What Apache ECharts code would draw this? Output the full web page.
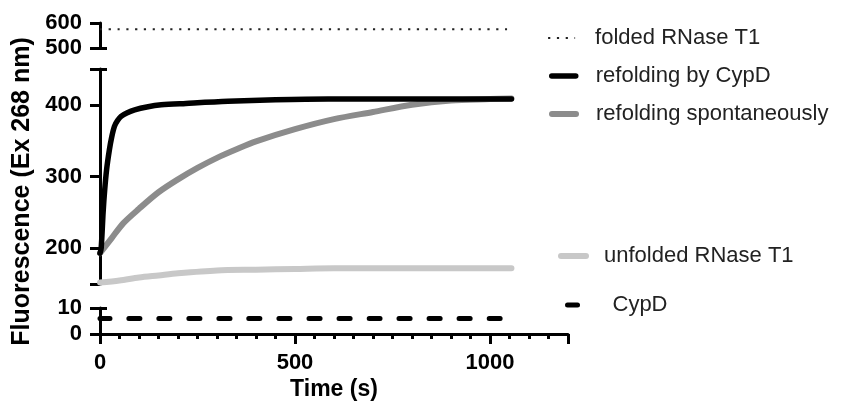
<!DOCTYPE html>
<html>
<head>
<meta charset="utf-8">
<title>RNase T1 refolding</title>
<script src="https://cdn.jsdelivr.net/npm/echarts@6/dist/echarts.min.js"></script>
<style>
  html, body { margin: 0; padding: 0; background: #fff; }
  #chart { width: 843px; height: 414px; }
</style>
</head>
<body>
<div id="chart"></div>
<script>
// values (time in s, fluorescence at Ex 268 nm)
const timeCypD = [0, 3, 8, 12, 17, 24, 30, 37, 45, 54, 70, 89, 120, 157, 220, 328, 450, 585, 800, 1055];
const refoldCypD = [193, 200, 250, 281, 310, 337, 355, 370, 378, 384, 389, 393, 397, 400, 402, 405, 407, 408, 408, 408];

const timeSpont = [0, 30, 60, 100, 150, 200, 250, 300, 350, 400, 500, 600, 700, 800, 900, 1000, 1055];
const refoldSpont = [193, 214, 235, 255, 278, 296, 312, 326, 338, 349, 366, 380, 390, 400, 406, 408, 409];

const timeUnfolded = [0, 50, 100, 150, 200, 300, 400, 500, 600, 800, 1055];
const unfolded = [152, 155, 159, 162, 165, 169, 170, 171, 172, 172, 172];

const timeFlat = [0, 1055];
const folded = [575, 575];
const cypD = [6, 6];

const seriesNames = ['folded RNase T1', 'refolding by CypD', 'refolding spontaneously', 'unfolded RNase T1', 'CypD'];

// broken y axis: three ranges
const topRange = [500, 600];
const midRange = [150, 450];
const lowRange = [0, 10];
const midLabels = [200, 300, 400];
const midTicks = [150, 200, 300, 400, 450];
const xRange = [0, 1200];

const FONT = '"Liberation Sans", Arial, sans-serif';
const chart = echarts.init(document.getElementById('chart'), null, { renderer: 'canvas' });

const zip = (xs, ys) => xs.map((x, i) => [x, ys[i]]);

const axisLine = { show: true, lineStyle: { color: '#000', width: 3 } };
const axisTick = { show: true, length: 10, lineStyle: { color: '#000', width: 3 } };
const tickLabel = { color: '#000', fontSize: 22, fontWeight: 'bold', fontFamily: FONT, margin: 18 };

const grids = [
  { left: 100, right: 275, top: 23, height: 25 },
  { left: 100, right: 275, top: 69, height: 215 },
  { left: 100, right: 275, top: 308, height: 26 }
].map(g => Object.assign({ outerBoundsMode: 'none', containLabel: false }, g));

const xAxes = [0, 1, 2].map(i => ({
  type: 'value', gridIndex: i, min: xRange[0], max: xRange[1], interval: 500,
  show: i === 2,
  axisLine: axisLine,
  axisTick: axisTick,
  minorTick: { show: true, splitNumber: 10, length: 5, lineStyle: { color: '#000', width: 3 } },
  axisLabel: Object.assign({ showMaxLabel: false, formatter: v => String(v) }, tickLabel),
  splitLine: { show: false },
  name: i === 2 ? 'Time (s)' : '',
  nameLocation: 'middle', nameGap: 44,
  nameTextStyle: { color: '#000', fontSize: 23, fontWeight: 'bold', fontFamily: FONT }
}));

const yMain = [
  { gridIndex: 0, min: topRange[0], max: topRange[1], interval: 100 },
  {
    gridIndex: 1, min: midRange[0], max: midRange[1],
    axisLabel: Object.assign({ customValues: midLabels }, tickLabel),
    axisTick: Object.assign({ customValues: midTicks }, axisTick),
    name: 'Fluorescence (Ex 268 nm)', nameLocation: 'middle', nameGap: 63,
    nameTextStyle: { color: '#000', fontSize: 25, fontWeight: 'bold', fontFamily: FONT, padding: [0, 30, 0, 0] }
  },
  { gridIndex: 2, min: lowRange[0], max: lowRange[1], interval: 10 }
].map(a => Object.assign({
  type: 'value', position: 'left',
  axisLine: axisLine, axisTick: axisTick, axisLabel: tickLabel,
  splitLine: { show: false }
}, a));

// short inward caps at the broken ends of the y axis
const capValues = [[topRange[0]], [midRange[1]], [lowRange[1]]];
const yCaps = [0, 1, 2].map(i => ({
  type: 'value', gridIndex: i, position: 'left', offset: 0,
  min: yMain[i].min, max: yMain[i].max,
  axisLine: { show: false }, axisLabel: { show: false }, splitLine: { show: false },
  axisTick: { show: true, inside: true, length: 7, customValues: capValues[i], lineStyle: { color: '#000', width: 3 } }
}));

const seriesStyles = [
  { color: '#222', width: 2.2, type: [2.2, 6.6], cap: 'butt' },
  { color: '#000', width: 5.5, cap: 'round' },
  { color: '#8c8c8c', width: 6, cap: 'round' },
  { color: '#c8c8c8', width: 6, cap: 'round' },
  { color: '#000', width: 5, type: [11, 19], dashOffset: 1, cap: 'round' }
];

const legendSpec = [
  { left: 547, top: 27, itemWidth: 27, pad: 15 },
  { left: 549, top: 65, itemWidth: 24, pad: 15 },
  { left: 549, top: 103, itemWidth: 24, pad: 15 },
  { left: 558, top: 245, itemWidth: 25, pad: 13 },
  { left: 565, top: 294, itemWidth: 10, pad: 30 }
];
const legends = legendSpec.map((s, i) => ({
  data: [{
    name: seriesNames[i],
    lineStyle: Object.assign({}, seriesStyles[i], i === 4 ? { type: 'solid' } : {})
  }],
  left: s.left, top: s.top, padding: 0, itemWidth: s.itemWidth, itemHeight: 14,
  selectedMode: false,
  itemStyle: { opacity: 0 },
  textStyle: { color: '#222', fontSize: 22, fontFamily: FONT, padding: [0, 0, 0, s.pad] }
}));

const line = (i, data, gi) => ({
  name: seriesNames[i], type: 'line', data: data, xAxisIndex: gi, yAxisIndex: gi,
  showSymbol: false, symbol: 'none', smooth: 0.3, animation: false,
  lineStyle: seriesStyles[i], itemStyle: { color: seriesStyles[i].color }
});

chart.setOption({
  animation: false,
  backgroundColor: '#fff',
  grid: grids,
  xAxis: xAxes,
  yAxis: yMain.concat(yCaps),
  legend: legends,
  series: [
    line(0, zip(timeFlat, folded), 0),
    line(3, zip(timeUnfolded, unfolded), 1),
    line(2, zip(timeSpont, refoldSpont), 1),
    line(1, zip(timeCypD, refoldCypD), 1),
    line(4, zip(timeFlat, cypD), 2)
  ]
});
</script>
</body>
</html>
